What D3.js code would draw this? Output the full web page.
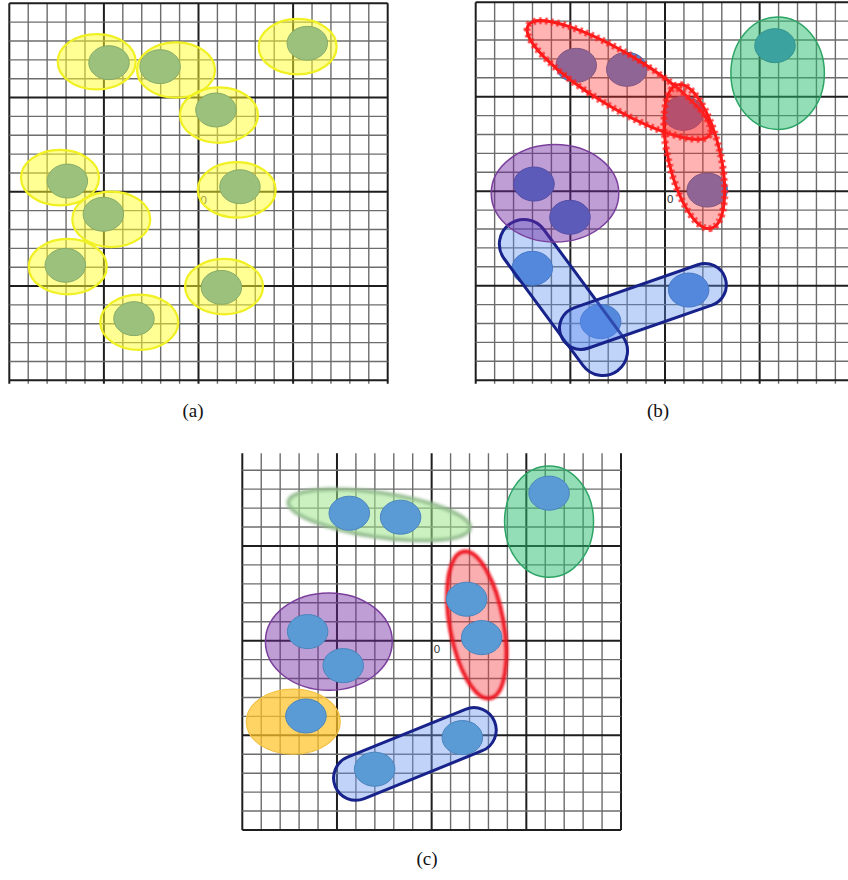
<!DOCTYPE html>
<html>
<head>
<meta charset="utf-8">
<script src="https://cdn.jsdelivr.net/npm/d3@7"></script>
<style>
  html, body { margin: 0; padding: 0; background: #fff; }
  svg { display: block; }
</style>
</head>
<body>
<script>
// ---------------- DATA (grid units, origin at centre, 20x20 cells) ----------------
const gridTicks = d3.range(-10, 11);          // grid lines -10 ... 10
const originLabel = "0";
const panelLabels = ["(a)", "(b)", "(c)"];

// panel (a): yellow clusters (centres) and green points
const aClusterCentres = [[-5.38,6.90],[-1.19,6.46],[5.24,7.70],[1.08,4.07],[-7.32,0.75],
                         [2.02,0.10],[-4.61,-1.46],[-6.91,-3.97],[1.35,-5.03],[-3.13,-6.92]];
const aPoints = [[-4.73,6.85],[-2.03,6.64],[5.75,7.88],[0.92,4.34],[-6.93,0.57],
                 [2.19,0.27],[-5.03,-1.19],[-7.04,-3.90],[1.21,-5.07],[-3.41,-6.73]];
const aClusterRadii = [2.06, 1.47];
const pointRadii = [1.07, 0.90];

// panel (b)
const bPoints = [[-4.69,6.66],[-2.02,6.45],[0.97,4.12],[2.23,0.06],[5.81,7.70],
                 [-6.92,0.38],[-5.02,-1.38],[-7.01,-4.08],[-3.40,-6.90],[1.25,-5.23]];
// [cx, cy, rx, ry, angle(deg, data space), kind]
const bEllipses = [[-2.43,5.88,5.60,1.43,-31,"red"],
                   [1.55,1.83,3.89,1.38,-76.9,"red"],
                   [5.95,6.24,2.47,2.98,0,"green"],
                   [-5.81,-0.11,3.37,2.58,0,"purple"]];
// [x1, y1, x2, y2, halfWidth]
const bCapsules = [[-7.45,-2.80,-3.28,-8.45,1.30],
                   [-4.44,-7.24,2.11,-4.96,1.13]];

// panel (c)
const cPoints = [[-4.35,6.73],[-1.64,6.52],[6.20,7.79],[1.85,2.19],[2.64,0.16],
                 [-6.55,0.48],[-4.67,-1.32],[-6.64,-3.98],[-3.01,-6.79],[1.62,-5.12]];
const cEllipses = [[-2.77,6.64,4.85,1.18,-8.3,"lightgreen"],
                   [6.20,6.29,2.35,2.94,0,"green"],
                   [2.38,0.83,3.94,1.42,-79.7,"redsoft"],
                   [-5.43,-0.05,3.35,2.57,0,"purple"],
                   [-7.31,-4.28,2.48,1.72,0,"orange"]];
const cCapsules = [[-4.00,-7.25,2.23,-4.72,1.18]];

// ---------------- LAYOUT ----------------
const W = 848, H = 880;
const panels = {
  a: {left: 9.3,   right: 387.7, top: 3.3,   bottom: 380.3, topLine: true,  ticks: true},
  b: {left: 475.7, right: 854.3, top: 2.2,   bottom: 380.2, topLine: true,  ticks: true},
  c: {left: 242.3, right: 621.0, top: 451.3, bottom: 830.0, topLine: false, ticks: false}
};

const svg = d3.select("body").append("svg").attr("width", W).attr("height", H);
svg.append("rect").attr("width", W).attr("height", H).attr("fill", "#fff");

const defs = svg.append("defs");
defs.append("filter").attr("id","blur1").attr("x","-20%").attr("y","-20%").attr("width","140%").attr("height","140%")
  .append("feGaussianBlur").attr("stdDeviation", 1.2);
defs.append("filter").attr("id","blur2").attr("x","-20%").attr("y","-40%").attr("width","140%").attr("height","180%")
  .append("feGaussianBlur").attr("stdDeviation", 1.8);
defs.append("filter").attr("id","blur05").attr("x","-20%").attr("y","-20%").attr("width","140%").attr("height","140%")
  .append("feGaussianBlur").attr("stdDeviation", 0.5);

const styles = {
  red:       {fill: "rgba(255,45,45,0.36)",  stroke: "#ff1a1a", sw: 3, jag: true},
  redsoft:   {fill: "rgba(245,60,70,0.42)",  stroke: "#ee1822", sw: 4, blur: "blur1"},
  green:     {fill: "rgba(40,190,110,0.5)",  stroke: "#2ea466", sw: 1.5},
  purple:    {fill: "rgba(110,40,160,0.45)", stroke: "#7a3f9c", sw: 1.5},
  lightgreen:{fill: "rgba(160,230,140,0.55)",stroke: "#8fb88a", sw: 3.5, blur: "blur2"},
  orange:    {fill: "rgba(255,195,40,0.72)", stroke: "#f3c246", sw: 1.2}
};

function makePanel(p) {
  const x = d3.scaleLinear().domain([-10, 10]).range([p.left, p.right]);
  const y = d3.scaleLinear().domain([-10, 10]).range([p.bottom, p.top]);
  const g = svg.append("g");
  const gridG = g.append("g");
  const tickLen = p.ticks ? 3.5 : 0;
  const yTopV = p.topLine ? y(10) : y(10) + 2;
  gridG.selectAll("line.v").data(gridTicks).join("line")
    .attr("x1", d => x(d)).attr("x2", d => x(d))
    .attr("y1", yTopV).attr("y2", y(-10) + tickLen)
    .attr("stroke", d => (d % 5 === 0) ? "#1e1e1e" : "#6c6c6c")
    .attr("stroke-width", d => (d % 5 === 0) ? 2 : 1.4);
  gridG.selectAll("line.h").data(gridTicks.filter(d => p.topLine || d !== 10)).join("line")
    .attr("x1", x(-10)).attr("x2", x(10))
    .attr("y1", d => y(d)).attr("y2", d => y(d))
    .attr("stroke", d => (d % 5 === 0) ? "#1e1e1e" : "#6c6c6c")
    .attr("stroke-width", d => (d % 5 === 0) ? 2 : 1.4);
  g.append("text").attr("x", x(0) + 2).attr("y", y(0) + 12)
    .attr("font-family", "Liberation Sans, Arial, sans-serif").attr("font-size", 11.5)
    .attr("fill", "#333").text(originLabel);
  return {g, x, y};
}

function drawEllipses(P, data) {
  const {g, x, y} = P;
  data.forEach(d => {
    const st = styles[d[5]];
    const cx = x(d[0]), cy = y(d[1]);
    const rx = x(d[2]) - x(0), ry = y(0) - y(d[3]);
    const tr = `translate(${cx},${cy}) rotate(${-d[4]})`;
    const e = g.append("ellipse").attr("transform", tr).attr("rx", rx).attr("ry", ry)
      .attr("fill", st.fill).attr("stroke", st.stroke).attr("stroke-width", st.sw);
    if (st.blur) e.attr("filter", `url(#${st.blur})`);
    if (st.jag) {
      g.append("ellipse").attr("transform", tr).attr("rx", rx).attr("ry", ry)
        .attr("fill", "none").attr("stroke", st.stroke).attr("stroke-width", 7)
        .attr("stroke-dasharray", "2.5 3.5").attr("opacity", 0.8)
        .attr("filter", "url(#blur05)");
    }
  });
}

function drawCapsules(P, data, fill) {
  const {g, x, y} = P;
  data.forEach(d => {
    const x1 = x(d[0]), y1 = y(d[1]), x2 = x(d[2]), y2 = y(d[3]);
    const hw = x(d[4]) - x(0);
    const L = Math.hypot(x2 - x1, y2 - y1);
    const ang = Math.atan2(y2 - y1, x2 - x1) * 180 / Math.PI;
    g.append("rect")
      .attr("transform", `translate(${(x1 + x2) / 2},${(y1 + y2) / 2}) rotate(${ang})`)
      .attr("x", -L / 2 - hw).attr("y", -hw).attr("width", L + 2 * hw).attr("height", 2 * hw)
      .attr("rx", hw).attr("ry", hw)
      .attr("fill", fill).attr("stroke", "#17238a").attr("stroke-width", 3);
  });
}

function drawPoints(P, data, fill, stroke, rad) {
  const {g, x, y} = P;
  g.append("g").selectAll("ellipse").data(data).join("ellipse")
    .attr("cx", d => x(d[0])).attr("cy", d => y(d[1]))
    .attr("rx", x(rad[0]) - x(0)).attr("ry", y(0) - y(rad[1]))
    .attr("fill", fill).attr("stroke", stroke).attr("stroke-width", 1);
}

// ---- panel (a)
const A = makePanel(panels.a);
A.g.append("g").selectAll("ellipse").data(aClusterCentres).join("ellipse")
  .attr("cx", d => A.x(d[0])).attr("cy", d => A.y(d[1]))
  .attr("rx", A.x(aClusterRadii[0]) - A.x(0)).attr("ry", A.y(0) - A.y(aClusterRadii[1]))
  .attr("fill", "rgba(255,255,40,0.5)").attr("stroke", "#f0f022").attr("stroke-width", 2.2);
drawPoints(A, aPoints, "#9cc17d", "#86ab69", pointRadii);

// ---- panel (b): points under translucent groups
const B = makePanel(panels.b);
drawPoints(B, bPoints, "#4f86d0", "#3d6cae", pointRadii);
drawCapsules(B, bCapsules, "rgba(90,140,240,0.38)");
drawEllipses(B, bEllipses);

// ---- panel (c): groups then points on top
const C = makePanel(panels.c);
drawEllipses(C, cEllipses);
drawCapsules(C, cCapsules, "rgba(110,150,240,0.42)");
drawPoints(C, cPoints, "#5b9bd5", "#4a84bd", pointRadii);

// ---- sub-captions
const capPos = [[193, 417], [658, 417], [427, 865]];
svg.selectAll("text.cap").data(panelLabels).join("text")
  .attr("class", "cap")
  .attr("x", (d, i) => capPos[i][0]).attr("y", (d, i) => capPos[i][1])
  .attr("text-anchor", "middle")
  .attr("font-family", "Liberation Serif, DejaVu Serif, serif").attr("font-size", 19)
  .attr("fill", "#111").text(d => d);
</script>
</body>
</html>
